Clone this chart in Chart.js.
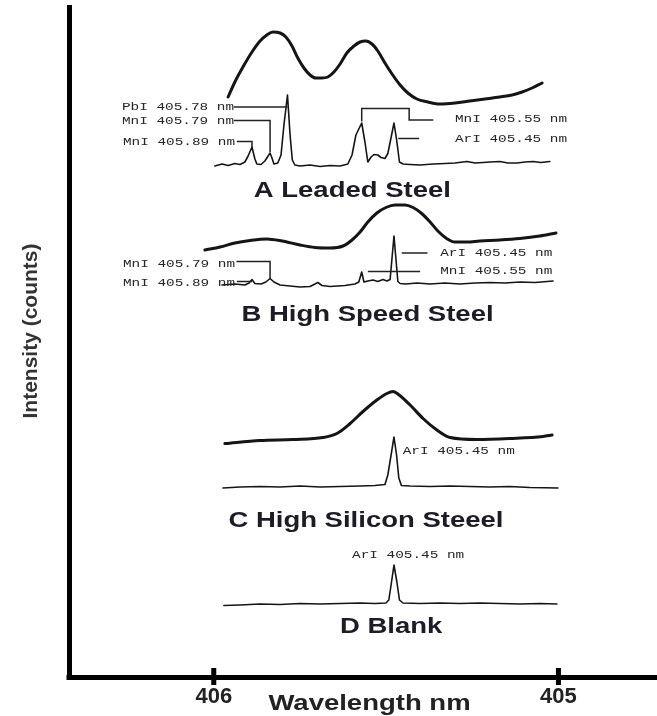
<!DOCTYPE html>
<html>
<head>
<meta charset="utf-8">
<title>Emission spectra near 405 nm</title>
<script src="https://cdn.jsdelivr.net/npm/chart.js@4.4.1/dist/chart.umd.min.js"></script>
<style>
  html, body { margin: 0; padding: 0; background: #ffffff; }
  canvas { display: block; }
</style>
</head>
<body>
<canvas id="spectra" width="657" height="716"></canvas>
<script>
// ---- Data -------------------------------------------------------------
// Ticks of the wavelength axis (nm)
const wavelengthTicks = [406, 405];

// Sample names
const panelNames = ['A Leaded Steel', 'B High Speed Steel', 'C High Silicon Steeel', 'D Blank'];

// Identified emission lines
const lineElements = ['PbI', 'MnI', 'MnI', 'MnI', 'ArI'];
const lineWavelengths = [405.78, 405.79, 405.89, 405.55, 405.45];

// A: leaded steel, low-resolution envelope
const leadedEnvelopeNm = [405.964, 405.943, 405.918, 405.890, 405.865, 405.844, 405.825, 405.803, 405.785, 405.766,
  405.748, 405.729, 405.710, 405.692, 405.673, 405.655, 405.636, 405.617, 405.596, 405.574,
  405.555, 405.537, 405.518, 405.500, 405.478, 405.456, 405.431, 405.407, 405.379, 405.345,
  405.307, 405.261, 405.215, 405.168, 405.122, 405.084, 405.053, 405.022, 404.991];
const leadedEnvelopeCounts = [70.5, 85.5, 100.5, 115.5, 126.5, 132.5, 135.5, 134.5, 130.5, 121.5,
  109.5, 99.5, 92.5, 89.5, 89.5, 90.5, 95.5, 103.5, 114.5, 121.5,
  125.5, 126.5, 123.5, 116.5, 104.5, 93.5, 82.5, 74.5, 68.5, 65.5,
  63.5, 64.5, 66.5, 68.5, 70.5, 72.5, 75.5, 79.5, 84.5];

// A: leaded steel, resolved lines
const leadedLinesNm = [406.005, 405.983, 405.964, 405.943, 405.927, 405.912, 405.902, 405.890, 405.881, 405.875,
  405.862, 405.850, 405.840, 405.834, 405.828, 405.822, 405.810, 405.800, 405.791, 405.780,
  405.772, 405.765, 405.757, 405.741, 405.710, 405.679, 405.648, 405.617, 405.593, 405.580,
  405.568, 405.550, 405.540, 405.531, 405.521, 405.512, 405.500, 405.490, 405.478, 405.469,
  405.459, 405.450, 405.442, 405.433, 405.422, 405.400, 405.369, 405.329, 405.292, 405.261,
  405.224, 405.199, 405.174, 405.153, 405.122, 405.097, 405.069, 405.044, 405.019, 404.995, 404.967];
const leadedLinesCounts = [1.5, 3.5, 2, 4, 3, 5.5, 11.5, 20.5, 8.5, 3.5,
  3, 6.5, 11.5, 14.5, 9.5, 3.5, 4.5, 12.5, 42.5, 72.5,
  32.5, 7.5, 2.5, 1.5, 2.5, 1, 2, 1.5, 3.5, 12.5,
  32.5, 44.5, 25.5, 5.5, 10.5, 13, 12.5, 10, 9, 14,
  30, 44.5, 28, 5.5, 3.5, 3, 2.5, 3.5, 4, 4.5,
  6, 4.5, 5, 5.5, 6, 4.5, 4.5, 5.5, 6, 5, 6];

// B: high speed steel, low-resolution envelope
const hssEnvelopeNm = [406.036, 405.989, 405.943, 405.896, 405.844, 405.797, 405.741, 405.695, 405.648, 405.608,
  405.580, 405.555, 405.531, 405.503, 405.475, 405.447, 405.416, 405.391, 405.366, 405.338,
  405.314, 405.289, 405.261, 405.224, 405.184, 405.122, 405.060, 404.998, 404.948];
const hssEnvelopeCounts = [37.5, 40.5, 44.5, 47, 48.5, 46.5, 42.5, 40, 39.5, 41.5,
  47.5, 55.5, 65.5, 74.5, 80, 82.5, 82.5, 80, 74.5, 65.5,
  56.5, 49.5, 45.5, 45.5, 46.5, 47.5, 49, 51.5, 54.5];

// B: high speed steel, resolved lines
const hssLinesNm = [405.983, 405.943, 405.912, 405.899, 405.890, 405.881, 405.862, 405.847, 405.834, 405.822,
  405.803, 405.772, 405.741, 405.710, 405.695, 405.686, 405.673, 405.648, 405.602, 405.571,
  405.559, 405.550, 405.543, 405.531, 405.515, 405.500, 405.484, 405.472, 405.462, 405.450,
  405.438, 405.431, 405.413, 405.379, 405.338, 405.292, 405.246, 405.199, 405.153, 405.106,
  405.060, 405.013, 404.957];
const hssLinesCounts = [2.5, 3.5, 2.5, 4.5, 8, 4, 3.5, 5.5, 9, 5.5,
  2.5, 1.5, 0.5, 1, 3.5, 5, 2, 1, 2, 3.5,
  5.5, 15.5, 5.5, 6.5, 7.5, 6, 8, 6.5, 8, 51.5,
  6, 4, 3.5, 4.5, 3.5, 4.5, 3.5, 4.5, 5, 4.5,
  5.5, 5, 6.5];

// C: high silicon steel, low-resolution envelope
const siliconEnvelopeNm = [405.974, 405.865, 405.763, 405.670, 405.627, 405.586, 405.546, 405.503, 405.472, 405.453,
  405.438, 405.400, 405.360, 405.317, 405.276, 405.193, 405.091, 404.988, 404.960];
const siliconEnvelopeCounts = [46, 49, 50, 52, 56, 66, 78, 89.5, 96, 98,
  95.5, 84.5, 71, 59.5, 52, 50, 51, 53, 54.5];

// C: high silicon steel, resolved lines
const siliconLinesNm = [405.980, 405.927, 405.865, 405.803, 405.741, 405.679, 405.617, 405.555, 405.509, 405.478,
  405.469, 405.459, 405.450, 405.442, 405.435, 405.427, 405.400, 405.338, 405.276, 405.215,
  405.153, 405.091, 405.029, 404.942];
const siliconLinesCounts = [1.5, 2.5, 3, 2.5, 3.5, 2.5, 3, 3.5, 4, 5,
  14.5, 34.5, 52.5, 34.5, 11.5, 4, 3.5, 3, 3.5, 3,
  2.5, 3, 2, 1.5];

// D: blank, resolved lines
const blankLinesNm = [405.977, 405.927, 405.865, 405.803, 405.741, 405.679, 405.617, 405.555, 405.509, 405.475,
  405.466, 405.459, 405.450, 405.441, 405.433, 405.422, 405.369, 405.307, 405.246, 405.184,
  405.122, 405.060, 404.998, 404.945];
const blankLinesCounts = [0, 0.5, 1.5, 1, 2, 1.5, 2, 2.5, 2, 2.5,
  5.5, 20.5, 40.5, 23.5, 5.5, 2.5, 2, 2.5, 2, 2.5,
  2, 1.5, 2, 1.5];

// ---- Layout -----------------------------------------------------------
// Each spectrum is lifted onto its own baseline on the shared intensity axis.
const lineName = i => lineElements[i] + ' ' + lineWavelengths[i].toFixed(2) + ' nm';

const panels = [
  { name: panelNames[0], base: 510, title: [405.579, -29], notes: [
      { text: lineName(0), at: [406.293, 60.5], path: [[405.946, 60.5], [405.78, 60.5]] },
      { text: lineName(1), at: [406.293, 46.5], path: [[405.946, 47], [405.834, 47], [405.834, 15.5]] },
      { text: lineName(2), at: [406.290, 26], path: [[405.937, 26], [405.89, 26], [405.89, 20.5]] },
      { text: lineName(3), at: [405.261, 49], path: [[405.55, 46], [405.55, 59], [405.403, 59], [405.403, 47.5], [405.328, 47.5]] },
      { text: lineName(4), at: [405.261, 29], path: [[405.437, 29], [405.372, 29]] } ] },
  { name: panelNames[1], base: 390, title: [405.532, -33.5], notes: [
      { text: lineName(1), at: [406.290, 23.5], path: [[405.938, 26], [405.834, 26], [405.834, 9]] },
      { text: lineName(2), at: [406.290, 4.5], path: [[405.937, 6], [405.89, 6]] },
      { text: lineName(4), at: [405.307, 34.5], path: [[405.426, 34.5], [405.346, 34.5]] },
      { text: lineName(3), at: [405.307, 16.5], path: [[405.531, 16], [405.369, 16]] } ] },
  { name: panelNames[2], base: 188, title: [405.537, -37.5], notes: [
      { text: lineName(4), at: [405.423, 38.5] } ] },
  { name: panelNames[3], base: 72, title: [405.459, -27.5], notes: [
      { text: lineName(4), at: [405.580, 50.5] } ] }
];

function trace(nm, counts, base, width, smooth) {
  return {
    data: nm.map((w, i) => ({ x: w, y: base + counts[i] })),
    xAxisID: 'xs',
    yAxisID: 'y',
    borderColor: '#151515',
    borderWidth: width,
    pointRadius: 0,
    fill: false,
    tension: smooth ? 0.4 : 0,
    cubicInterpolationMode: smooth ? 'monotone' : 'default',
    borderJoinStyle: 'round',
    borderCapStyle: 'round'
  };
}

const datasets = [
  trace(leadedEnvelopeNm, leadedEnvelopeCounts, panels[0].base, 3, true),
  trace(leadedLinesNm, leadedLinesCounts, panels[0].base, 1.6, false),
  trace(hssEnvelopeNm, hssEnvelopeCounts, panels[1].base, 3, true),
  trace(hssLinesNm, hssLinesCounts, panels[1].base, 1.6, false),
  trace(siliconEnvelopeNm, siliconEnvelopeCounts, panels[2].base, 3, true),
  trace(siliconLinesNm, siliconLinesCounts, panels[2].base, 1.6, false),
  trace(blankLinesNm, blankLinesCounts, panels[3].base, 1.6, false)
];

function stretchedText(ctx, text, x, y, sx) {
  ctx.save();
  ctx.translate(x, y);
  ctx.scale(sx, 1);
  ctx.fillText(text, 0, 0);
  ctx.restore();
}

// Tick marks, line identifications, sample names and axis titles
const notesPlugin = {
  id: 'spectrumNotes',
  afterDraw(chart) {
    const { ctx, chartArea } = chart;
    const xs = chart.scales.xs, ys = chart.scales.y, xa = chart.scales.x;
    const P = (w, c) => [xs.getPixelForValue(w), ys.getPixelForValue(c)];
    ctx.save();

    ctx.fillStyle = '#000';
    wavelengthTicks.forEach(v => {
      const px = xa.getPixelForValue(v);
      ctx.fillRect(px - 2.5, chartArea.bottom - 9.5, 5, 17);
    });
    ctx.fillRect(chartArea.left - 2.5, chartArea.bottom - 2.5, 5, 5);

    panels.forEach(p => {
      ctx.strokeStyle = '#222';
      ctx.lineWidth = 1.5;
      p.notes.forEach(n => {
        if (!n.path) return;
        ctx.beginPath();
        n.path.forEach(([w, c], i) => {
          const [px, py] = P(w, p.base + c);
          if (i) ctx.lineTo(px, py); else ctx.moveTo(px, py);
        });
        ctx.stroke();
      });

      ctx.fillStyle = '#262626';
      ctx.font = '11.5px "Liberation Mono", "Courier New", monospace';
      ctx.textAlign = 'left';
      ctx.textBaseline = 'middle';
      p.notes.forEach(n => {
        const [px, py] = P(n.at[0], p.base + n.at[1]);
        stretchedText(ctx, n.text, px, py, 1.25);
      });

      ctx.fillStyle = '#1c1c26';
      ctx.font = 'bold 22px "Liberation Sans", Arial, sans-serif';
      ctx.textAlign = 'center';
      ctx.textBaseline = 'alphabetic';
      const [tx, ty] = P(p.title[0], p.base + p.title[1]);
      stretchedText(ctx, p.name, tx, ty, 1.25);
    });

    // axis titles
    ctx.fillStyle = '#222';
    ctx.font = 'bold 22px "Liberation Sans", Arial, sans-serif';
    ctx.textAlign = 'center';
    ctx.textBaseline = 'alphabetic';
    stretchedText(ctx, 'Wavelength nm', 369.5, 709.5, 1.25);

    ctx.save();
    ctx.fillStyle = '#333';
    ctx.font = 'bold 21px "Liberation Sans", Arial, sans-serif';
    ctx.translate(36.5, 331);
    ctx.rotate(-Math.PI / 2);
    ctx.fillText('Intensity (counts)', 0, 0);
    ctx.restore();

    ctx.restore();
  }
};

new Chart(document.getElementById('spectra'), {
  type: 'line',
  data: { datasets },
  options: {
    responsive: false,
    animation: false,
    devicePixelRatio: 1,
    layout: { padding: { top: 7.5, left: 69, right: 0, bottom: 0.1 } },
    plugins: { legend: { display: false }, tooltip: { enabled: false } },
    events: [],
    scales: {
      x: {
        type: 'linear',
        position: 'bottom',
        min: 404.714,
        max: 406.420,
        reverse: true,
        afterBuildTicks: s => { s.ticks = wavelengthTicks.map(v => ({ value: v })); },
        ticks: {
          padding: 6,
          color: '#222',
          font: { family: '"Liberation Sans", Arial, sans-serif', weight: 'bold', size: 22 },
          callback: v => String(v)
        },
        grid: { display: false, drawTicks: false },
        border: { display: true, width: 5, color: '#000' }
      },
      xs: {
        type: 'linear',
        display: false,
        min: 404.635,
        max: 406.457,
        reverse: true
      },
      y: {
        type: 'linear',
        position: 'left',
        min: 0,
        max: 670,
        ticks: { display: false },
        grid: { display: false, drawTicks: false },
        border: { display: true, width: 5, color: '#000' }
      }
    }
  },
  plugins: [notesPlugin]
});
</script>
</body>
</html>
